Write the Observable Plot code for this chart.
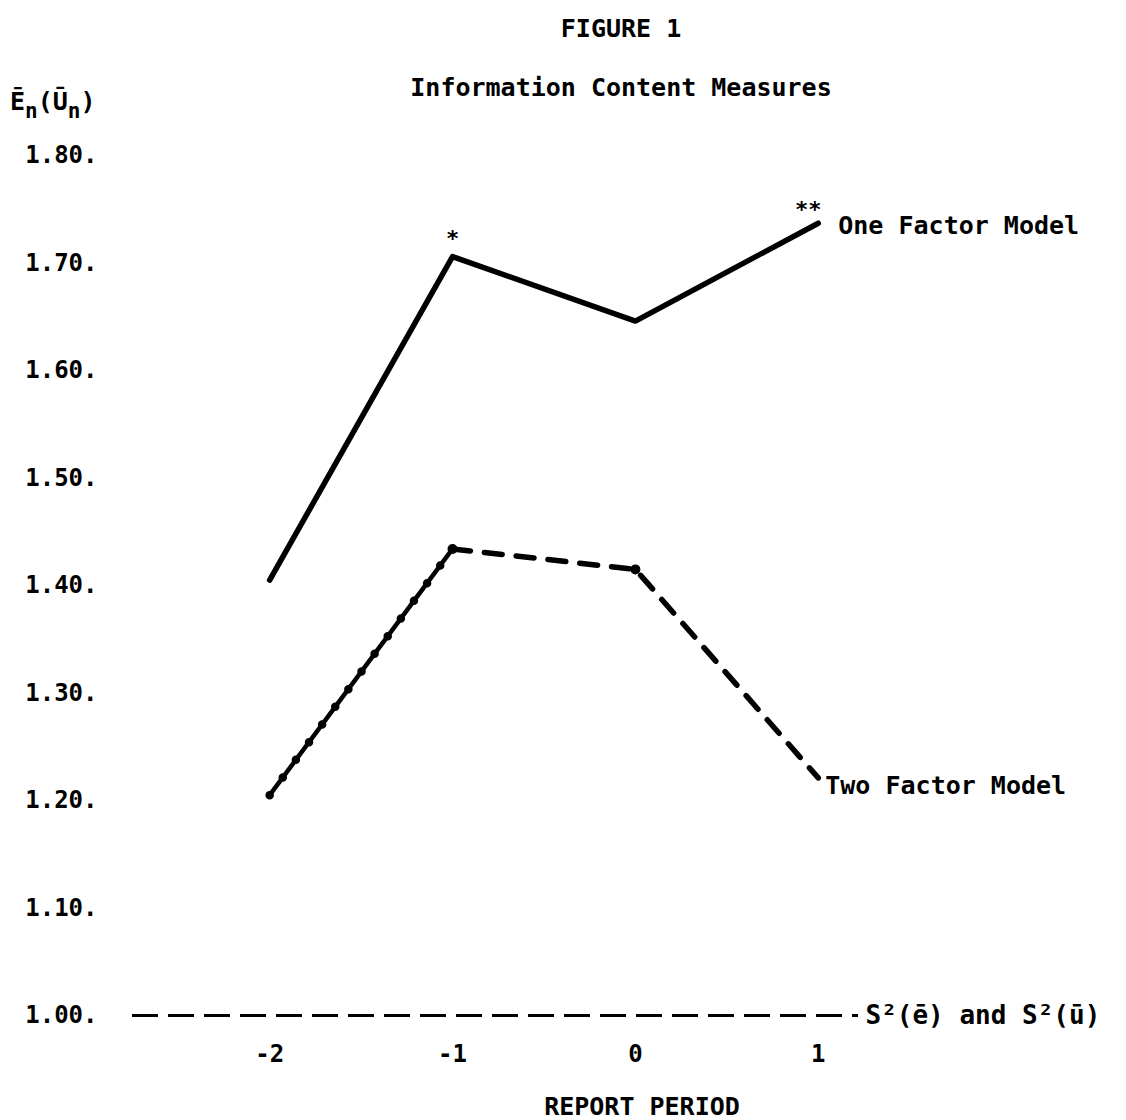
<!DOCTYPE html>
<html>
<head>
<meta charset="utf-8">
<script src="https://cdn.jsdelivr.net/npm/d3@7"></script>
<script src="https://cdn.jsdelivr.net/npm/@observablehq/plot@0.6"></script>
<style>
  html, body { margin: 0; padding: 0; background: #fff; }
  #wrap { position: relative; width: 1126px; height: 1120px; overflow: hidden; background: #fff;
          font-family: "DejaVu Sans Mono", "Liberation Mono", monospace; font-weight: bold; color: #000; }
  #wrap svg { position: absolute; left: 0; top: 0; }
  .txt { position: absolute; font-size: 25px; white-space: nowrap; line-height: 1; }
  #title { left: 0; width: 1242px; text-align: center; top: 16px; }
  #subtitle { left: 0; width: 1242px; text-align: center; top: 75px; }
  #ylab { left: 10px; top: 89px; }
  #ylab sub { font-size: 21px; vertical-align: -8px; }
  #xlab { left: 0; width: 1284px; text-align: center; top: 1094px; }
</style>
</head>
<body>
<div id="wrap">
  <div id="title" class="txt">FIGURE 1</div>
  <div id="subtitle" class="txt">Information Content Measures</div>
  <div id="ylab" class="txt">Ē<sub>n</sub>(Ū<sub>n</sub>)</div>
  <div id="xlab" class="txt">REPORT PERIOD</div>
</div>
<script>
// ---- data ----
const periods = [-2, -1, 0, 1];
const oneFactor = [1.405, 1.706, 1.646, 1.737];
const twoFactor = [1.205, 1.434, 1.415, 1.221];
const yTicks = [1.00, 1.10, 1.20, 1.30, 1.40, 1.50, 1.60, 1.70, 1.80];
const baselineValue = 1.00;
const seriesNames = ["One Factor Model", "Two Factor Model"];
const baselineLabel = "S²(ē) and S²(ū)";
const starSingle = {period: -1, mark: "*"};
const starDouble = {period: 1, mark: "**"};

// ---- tables built from the arrays ----
const one = periods.map((p, i) => ({x: p, y: oneFactor[i]}));
const two = periods.map((p, i) => ({x: p, y: twoFactor[i]}));
const starRow = s => [{x: s.period, y: oneFactor[periods.indexOf(s.period)], t: s.mark}];
const lastIdx = periods.length - 1;

const font = '"DejaVu Sans Mono", "Liberation Mono", monospace';

const chart = Plot.plot({
  width: 1126,
  height: 1120,
  marginTop: 155,
  marginBottom: 105,
  marginLeft: 132,
  marginRight: 268,
  x: {domain: [-2.75, 1.22]},
  y: {domain: [1.0, 1.8]},
  style: {fontFamily: font, fontSize: "24px", fontWeight: "bold", color: "#000", background: "transparent", overflow: "visible"},
  marks: [
    Plot.axisX({ticks: periods, tickSize: 0, tickPadding: 29, tickFormat: d => String(d), label: null, fontSize: 24}),
    Plot.axisY({ticks: yTicks, tickSize: 0, tickPadding: 35, tickFormat: d => d.toFixed(2) + ".", label: null, fontSize: 24}),
    Plot.ruleY([baselineValue], {stroke: "#000", strokeWidth: 3, strokeDasharray: "26,10"}),
    Plot.text([baselineLabel], {x: () => 1.22, y: () => baselineValue, text: d => d, textAnchor: "start", dx: 7, fontSize: 26}),
    // one factor model
    Plot.line(one, {x: "x", y: "y", stroke: "#000", strokeWidth: 5.5, strokeLinejoin: "round", strokeLinecap: "round"}),
    Plot.text(starRow(starSingle), {x: "x", y: "y", text: "t", dy: -18, fontSize: 22}),
    Plot.text(starRow(starDouble), {x: "x", y: "y", text: "t", dx: -10, dy: -13, fontSize: 22}),
    Plot.text([seriesNames[0]], {x: () => periods[lastIdx], y: () => oneFactor[lastIdx], text: d => d, textAnchor: "start", dx: 20, dy: 3, fontSize: 25}),
    // two factor model: solid beaded segment then dashed
    Plot.line(two.slice(0, 2), {x: "x", y: "y", stroke: "#000", strokeWidth: 4.5, strokeLinecap: "round"}),
    Plot.line(two.slice(0, 2), {x: "x", y: "y", stroke: "#000", strokeWidth: 8.5, strokeLinecap: "round", strokeDasharray: "0,22"}),
    Plot.line(two.slice(1), {x: "x", y: "y", stroke: "#000", strokeWidth: 5.5, strokeLinecap: "round", strokeDasharray: "18,14"}),
    Plot.dot(two.slice(1, 3), {x: "x", y: "y", r: 5, fill: "#000"}),
    Plot.text([seriesNames[1]], {x: () => periods[lastIdx], y: () => twoFactor[lastIdx], text: d => d, textAnchor: "start", dx: 7, dy: 8, fontSize: 25})
  ]
});
document.getElementById("wrap").prepend(chart);
</script>
</body>
</html>
